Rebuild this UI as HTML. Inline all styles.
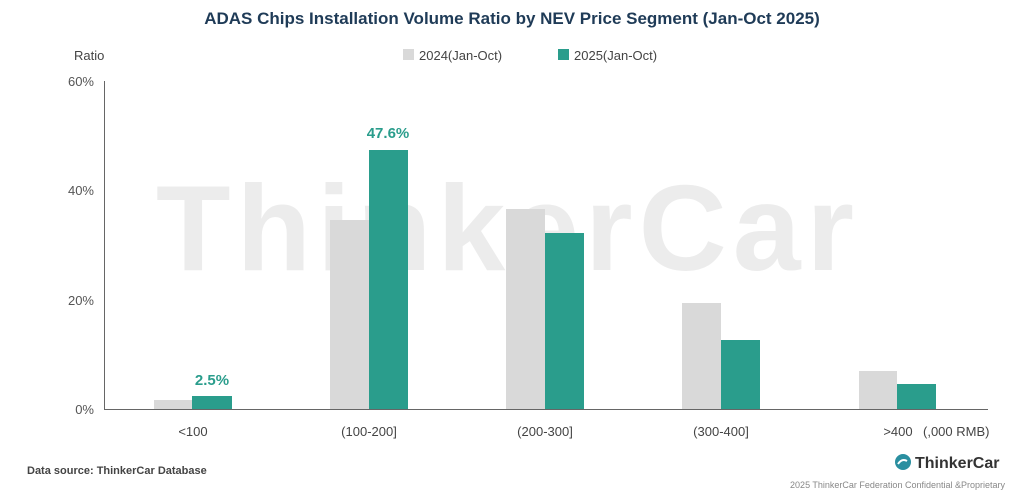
<!DOCTYPE html>
<html><head><style>
body{margin:0;background:#fff;}
svg{display:block;font-family:"Liberation Sans",sans-serif;}
</style></head><body>
<svg width="1024" height="501" viewBox="0 0 1024 501">
<rect width="1024" height="501" fill="#fff"/>
<text x="512" y="24" text-anchor="middle" font-size="17" font-weight="bold" fill="#1f3b57">ADAS Chips Installation Volume Ratio by NEV Price Segment (Jan-Oct 2025)</text>
<text x="508" y="270" text-anchor="middle" font-size="122" font-weight="bold" fill="#ececec" letter-spacing="6">ThinkerCar</text>
<text x="74" y="60" font-size="13" fill="#444">Ratio</text>
<rect x="403" y="49" width="11" height="11" fill="#d9d9d9"/>
<text x="419" y="60" font-size="13" fill="#444">2024(Jan-Oct)</text>
<rect x="558" y="49" width="11" height="11" fill="#2a9d8c"/>
<text x="574" y="60" font-size="13" fill="#444">2025(Jan-Oct)</text>
<g font-size="13" fill="#555" text-anchor="end">
<text x="94" y="86">60%</text>
<text x="94" y="195">40%</text>
<text x="94" y="305">20%</text>
<text x="94" y="414">0%</text>
</g>
<line x1="104.5" y1="81" x2="104.5" y2="409" stroke="#666" stroke-width="1"/>
<line x1="104" y1="409.5" x2="988" y2="409.5" stroke="#666" stroke-width="1"/>
<g fill="#d9d9d9">
<rect x="154" y="400" width="38" height="9"/>
<rect x="330" y="220" width="39" height="189"/>
<rect x="506" y="209" width="39" height="200"/>
<rect x="682" y="303" width="39" height="106"/>
<rect x="859" y="371" width="38" height="38"/>
</g>
<g fill="#2a9d8c">
<rect x="192" y="396" width="40" height="13"/>
<rect x="369" y="150" width="39" height="259"/>
<rect x="545" y="233" width="39" height="176"/>
<rect x="721" y="340" width="39" height="69"/>
<rect x="897" y="384" width="39" height="25"/>
</g>
<g font-size="15" font-weight="bold" fill="#2a9d8c" text-anchor="middle">
<text x="212" y="385">2.5%</text>
<text x="388" y="138">47.6%</text>
</g>
<g font-size="13" fill="#444" text-anchor="middle">
<text x="193" y="436">&lt;100</text>
<text x="369" y="436">(100-200]</text>
<text x="545" y="436">(200-300]</text>
<text x="721" y="436">(300-400]</text>
<text x="898" y="436">&gt;400</text>
</g>
<text x="923" y="436" font-size="13" fill="#444">(,000 RMB)</text>
<text x="27" y="474" font-size="11" font-weight="bold" fill="#444">Data source: ThinkerCar Database</text>
<circle cx="903" cy="462" r="8" fill="#2a8fa0"/>
<path d="M898 464 q4 -6 9 -3" stroke="#fff" stroke-width="2" fill="none"/>
<text x="915" y="468" font-size="16" font-weight="bold" fill="#333">ThinkerCar</text>
<text x="1005" y="488" font-size="9" fill="#888" text-anchor="end">2025 ThinkerCar Federation Confidential &amp;Proprietary</text>
</svg>
</body></html>
